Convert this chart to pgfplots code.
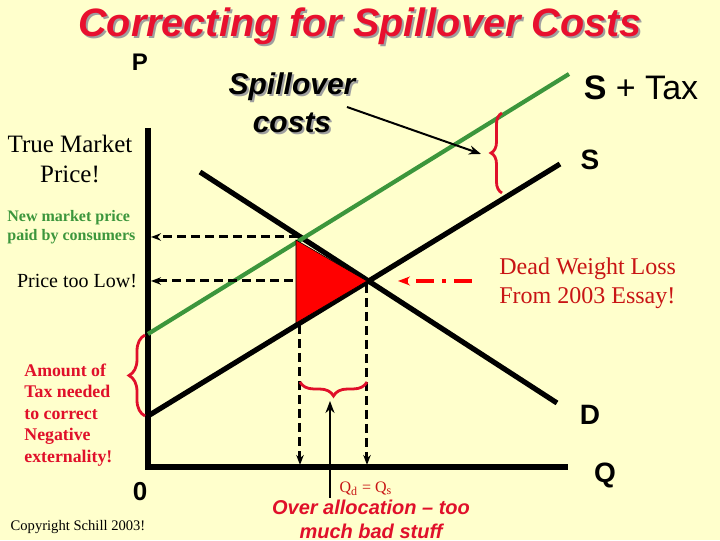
\documentclass[border=0pt]{standalone}
\usepackage{fontspec}
\setmainfont{Liberation Serif}
\setsansfont{Liberation Sans}
\usepackage{pgfplots}
\pgfplotsset{compat=1.18}
\usetikzlibrary{arrows.meta,decorations.pathreplacing}
\definecolor{bgY}{HTML}{FFFFCC}
\definecolor{ttlRed}{HTML}{E8102E}
\definecolor{gLine}{HTML}{3C963C}
\definecolor{dkRed}{HTML}{C81414}
\definecolor{brRed}{HTML}{E0102A}
\newcommand{\fs}[1]{\fontsize{#1}{1.2\dimexpr#1pt\relax}\selectfont}
\begin{document}
\begin{tikzpicture}
\begin{axis}[width=360pt,height=270pt,scale only axis,
  xmin=0,xmax=720,ymin=0,ymax=540,y dir=reverse,
  hide axis,clip=false]
\fill[bgY] (rel axis cs:0,0) rectangle (rel axis cs:1,1);
% axes
\addplot[black,line width=2.8pt] coordinates {(148,128)(148,467)(568,467)};
% demand, supply, supply + tax
\addplot[black,line width=2.6pt] coordinates {(200,172)(557,403)};
\addplot[black,line width=2.6pt] coordinates {(148,416)(560,164)};
\addplot[gLine,line width=2.1pt] coordinates {(148,334)(569,74)};
% dead weight loss
\addplot[fill=red,draw=black,line width=0.3pt] coordinates {(296,240)(367,281)(296,323)} -- cycle;
% dashed guides
\tikzset{guide/.style={black,line width=1.5pt,dash pattern=on 4.5pt off 2.5pt,-{Stealth[length=5pt]}}}
\draw[guide] (axis cs:298,237) -- (axis cs:151,237);
\draw[guide] (axis cs:293,281) -- (axis cs:151,281);
\draw[guide] (axis cs:300,325) -- (axis cs:300,465);
\draw[guide] (axis cs:367,284) -- (axis cs:367,465);
\draw[red,line width=1.9pt,dash pattern=on 9pt off 4pt on 2pt off 4pt,-{Stealth[length=6pt]}] (axis cs:472,281) -- (axis cs:398,281);
% spillover arrow
\draw[black,line width=1pt,-{Stealth[length=6pt]}] (axis cs:347,107) -- (axis cs:481,154);
% braces
\draw[brRed,line width=1.4pt,decorate,decoration={brace,amplitude=5.5pt}] (axis cs:502,193) -- (axis cs:502,113);
\draw[brRed,line width=1.4pt,decorate,decoration={brace,amplitude=8pt}] (axis cs:145,416) -- (axis cs:145,335);
\draw[brRed,line width=1.4pt,decorate,decoration={brace,amplitude=7pt}] (axis cs:367,382) -- (axis cs:300,382);
\draw[black,line width=1pt,-{Stealth[length=6pt]}] (axis cs:330,498) -- (axis cs:330,401);
% text
\node[gray!75,font=\sffamily\bfseries\itshape\fs{19.8}] at (axis cs:362,28) {Correcting for Spillover Costs};
\node[ttlRed,font=\sffamily\bfseries\itshape\fs{19.8}] at (axis cs:360,26) {Correcting for Spillover Costs};
\node[font=\sffamily\bfseries\fs{12}] at (axis cs:140,62) {P};
\node[gray!75,font=\sffamily\bfseries\itshape\fs{15}] at (axis cs:294,89) {Spillover};
\node[font=\sffamily\bfseries\itshape\fs{15}] at (axis cs:292,87) {Spillover};
\node[gray!75,font=\sffamily\bfseries\itshape\fs{15}] at (axis cs:294,125) {costs};
\node[font=\sffamily\bfseries\itshape\fs{15}] at (axis cs:292,123) {costs};
\node[font=\sffamily\fs{17}] at (axis cs:641,88) {\textbf{S} + Tax};
\node[font=\sffamily\bfseries\fs{14}] at (axis cs:590,160) {S};
\node[font=\sffamily\bfseries\fs{14}] at (axis cs:590,415) {D};
\node[font=\sffamily\bfseries\fs{14}] at (axis cs:605,475) {Q};
\node[font=\sffamily\bfseries\fs{13}] at (axis cs:140,492) {0};
\node[font=\fs{12.5},align=center,inner sep=0pt] at (axis cs:70,159) {True Market\\Price!};
\node[gLine,font=\bfseries\fs{8},align=left,anchor=west,inner sep=0pt] at (axis cs:7,227) {New market price\\paid by consumers};
\node[font=\fs{10},inner sep=0pt] at (axis cs:77,281) {Price too Low!};
\node[dkRed,font=\fs{12},align=left,anchor=west,inner sep=0pt] at (axis cs:499,283) {Dead Weight Loss\\From 2003 Essay!};
\node[brRed,font=\bfseries\fs{8.9},align=left,anchor=west,inner sep=0pt] at (axis cs:24,415) {Amount of\\Tax needed\\to correct\\Negative\\externality!};
\node[dkRed,font=\fs{8}] at (axis cs:366,489) {Q\textsubscript{d} = Q\textsubscript{s}};
\node[brRed,font=\sffamily\bfseries\itshape\fs{10},align=center,inner sep=0pt] at (axis cs:371,519) {Over allocation -- too\\much bad stuff};
\node[font=\fs{7.3}] at (axis cs:78,527) {Copyright Schill 2003!};
\end{axis}
\end{tikzpicture}
\end{document}
